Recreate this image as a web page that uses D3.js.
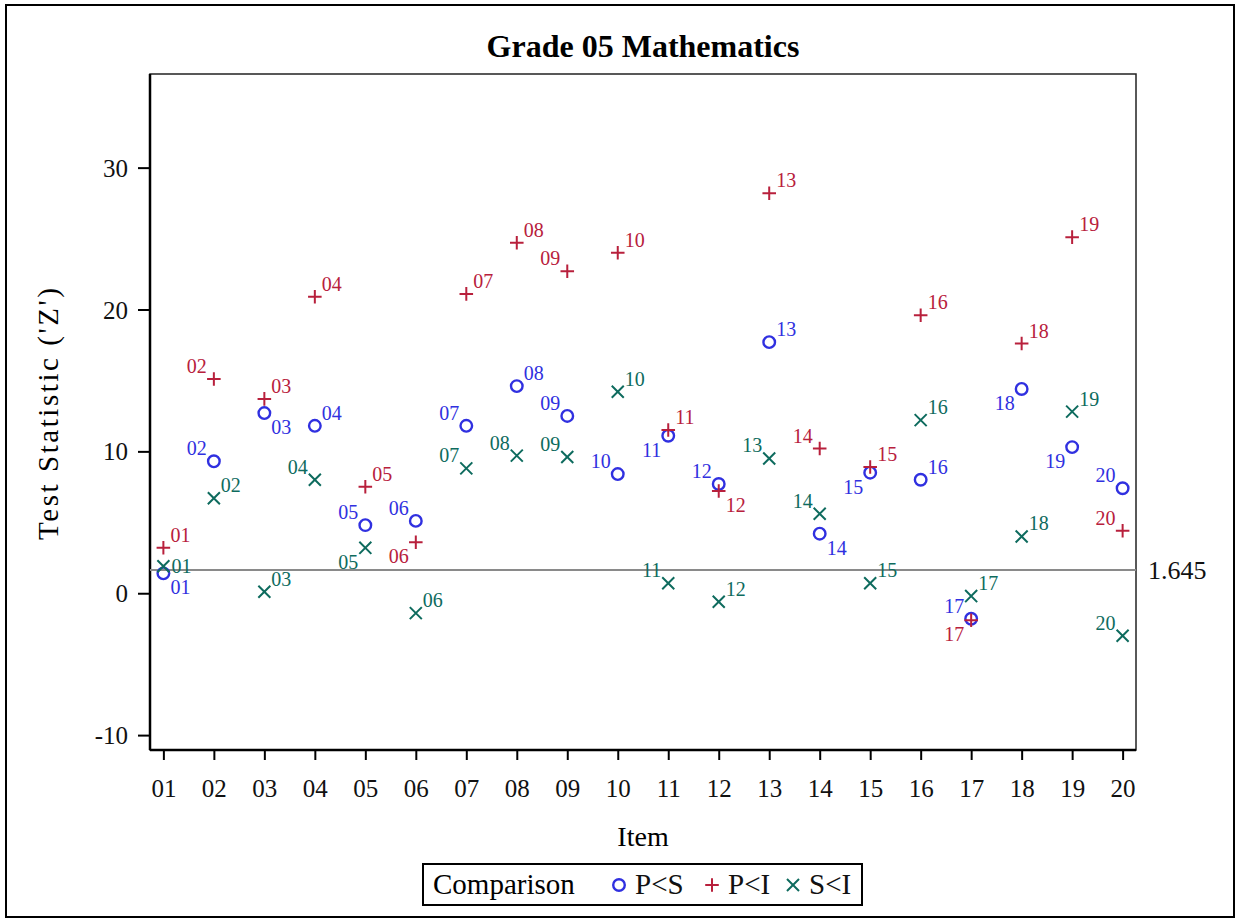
<!DOCTYPE html>
<html>
<head>
<meta charset="utf-8">
<script src="https://cdn.jsdelivr.net/npm/d3@7"></script>
<style>
  body { margin: 0; background: #fff; }
  svg { display: block; font-family: "Liberation Serif", "Times New Roman", serif; }
</style>
</head>
<body>
<div id="chart"></div>
<script>
// Данные графика
const items = ["01","02","03","04","05","06","07","08","09","10","11","12","13","14","15","16","17","18","19","20"];
const pLessS = [1.4, 9.3, 12.7, 11.8, 4.8, 5.1, 11.8, 14.6, 12.5, 8.4, 11.1, 7.7, 17.7, 4.2, 8.5, 8.0, -1.8, 14.4, 10.3, 7.4];
const pLessI = [3.2, 15.1, 13.7, 20.9, 7.5, 3.6, 21.1, 24.7, 22.7, 24.0, 11.5, 7.2, 28.2, 10.2, 8.9, 19.6, -1.9, 17.6, 25.1, 4.4];
const sLessI = [1.9, 6.7, 0.1, 8.0, 3.2, -1.4, 8.8, 9.7, 9.6, 14.2, 0.7, -0.6, 9.5, 5.6, 0.7, 12.2, -0.2, 4.0, 12.8, -3.0];
// Где стоит подпись точки: tr / tl / br / bl / r
const pLessSPos = ["br","tl","br","tr","tl","tl","tl","tr","tl","tl","bl","tl","tr","br","bl","tr","tl","bl","bl","tl"];
const pLessIPos = ["tr","tl","tr","tr","tr","bl","tr","tr","tl","tr","tr","br","tr","tl","tr","tr","bl","tr","tr","tl"];
const sLessIPos = ["r","tr","tr","tl","bl","tr","tl","tl","tl","tr","tl","tr","tl","tl","tr","tr","tr","tr","tr","tl"];
const yTicks = [-10, 0, 10, 20, 30];
const refValue = 1.645;

const seriesNames = ["P<S", "P<I", "S<I"];
const colors = ["#3030E0", "#B8203C", "#0E6B5E"];

const width = 1244, height = 924;
const margin = { left: 150, top: 74, right: 108, bottom: 174 };
const plotW = width - margin.left - margin.right;
const plotH = height - margin.top - margin.bottom;

const svg = d3.select("#chart").append("svg")
  .attr("width", width)
  .attr("height", height);

// Внешняя рамка
svg.append("rect")
  .attr("x", 6).attr("y", 5)
  .attr("width", 1228).attr("height", 912)
  .attr("fill", "none").attr("stroke", "#000").attr("stroke-width", 2);

const xScale = d3.scalePoint()
  .domain(items)
  .range([0, plotW])
  .padding(0.265);

const yScale = d3.scaleLinear()
  .domain([-11.05, 36.6])
  .range([plotH, 0]);

const g = svg.append("g").attr("transform", `translate(${margin.left},${margin.top})`);

// Рамка области построения
g.append("rect")
  .attr("width", plotW).attr("height", plotH)
  .attr("fill", "none").attr("stroke", "#222").attr("stroke-width", 1.5);

// Оси
const yAxis = g.append("g")
  .call(d3.axisLeft(yScale).tickValues(yTicks).tickSize(12).tickPadding(10).tickFormat(d => String(d)));
const xAxis = g.append("g")
  .attr("transform", `translate(0,${plotH})`)
  .call(d3.axisBottom(xScale).tickSize(10).tickPadding(24));

[yAxis, xAxis].forEach(ax => {
  ax.select(".domain").attr("stroke", "#000").attr("stroke-width", 2.5);
  ax.selectAll(".tick line").attr("stroke", "#000").attr("stroke-width", 2);
  ax.selectAll(".tick text")
    .attr("fill", "#111")
    .attr("font-size", 25)
    .attr("font-family", "Liberation Serif, serif");
});
yAxis.selectAll(".tick text").attr("dy", "0.34em");
xAxis.selectAll(".tick text").attr("dy", "0.5em");
yAxis.select(".domain").attr("d", `M0,0V${plotH}`);
xAxis.select(".domain").attr("d", `M0,0H${plotW}`);

// Опорная линия 1.645
g.append("line")
  .attr("x1", 0).attr("x2", plotW)
  .attr("y1", yScale(refValue)).attr("y2", yScale(refValue))
  .attr("stroke", "#8a8a8a").attr("stroke-width", 2);
g.append("text")
  .attr("x", plotW + 12)
  .attr("y", yScale(refValue) + 9)
  .attr("font-size", 26)
  .attr("fill", "#111")
  .text("1.645");

// Маркеры
const shapes = [
  d3.symbol().type(d3.symbolCircle).size(105),
  d3.symbol().type(d3.symbolPlus).size(62),
  d3.symbol().type(d3.symbolTimes).size(96),
];

const seriesData = [pLessS, pLessI, sLessI];
const seriesPos = [pLessSPos, pLessIPos, sLessIPos];

function labelAttrs(pos) {
  switch (pos) {
    case "tr": return { dx: 7, dy: -6, anchor: "start" };
    case "tl": return { dx: -7, dy: -6, anchor: "end" };
    case "br": return { dx: 7, dy: 21, anchor: "start" };
    case "bl": return { dx: -7, dy: 21, anchor: "end" };
    default: return { dx: 8, dy: 7, anchor: "start" };
  }
}

seriesData.forEach((values, s) => {
  const grp = g.append("g").attr("class", "series");
  const pts = values.map((v, i) => ({ item: items[i], value: v, pos: seriesPos[s][i] }));

  grp.selectAll("path")
    .data(pts)
    .join("path")
    .attr("transform", d => `translate(${xScale(d.item)},${yScale(d.value)})`)
    .attr("d", shapes[s]())
    .attr("fill", "none")
    .attr("stroke", colors[s])
    .attr("stroke-width", s === 0 ? 2.4 : 2);

  grp.selectAll("text")
    .data(pts)
    .join("text")
    .attr("x", d => xScale(d.item) + labelAttrs(d.pos).dx)
    .attr("y", d => yScale(d.value) + labelAttrs(d.pos).dy)
    .attr("text-anchor", d => labelAttrs(d.pos).anchor)
    .attr("font-size", 20)
    .attr("fill", colors[s])
    .text(d => d.item);
});

// Заголовок и подписи осей
svg.append("text")
  .attr("x", margin.left + plotW / 2)
  .attr("y", 57)
  .attr("text-anchor", "middle")
  .attr("font-size", 32)
  .attr("font-weight", "bold")
  .text("Grade 05 Mathematics");

svg.append("text")
  .attr("x", margin.left + plotW / 2)
  .attr("y", 846)
  .attr("text-anchor", "middle")
  .attr("font-size", 28)
  .text("Item");

svg.append("text")
  .attr("transform", `translate(58,${margin.top + plotH / 2 + 2}) rotate(-90)`)
  .attr("text-anchor", "middle")
  .attr("font-size", 29)
  .attr("textLength", 252)
  .attr("lengthAdjust", "spacing")
  .text("Test Statistic ('Z')");

// Легенда
const legend = svg.append("g").attr("transform", "translate(423,864)");
legend.append("rect")
  .attr("width", 439).attr("height", 41)
  .attr("fill", "#fff").attr("stroke", "#000").attr("stroke-width", 2);
legend.append("text")
  .attr("x", 10).attr("y", 30)
  .attr("font-size", 29)
  .text("Comparison");

const legendX = [196, 289, 370];
seriesNames.forEach((name, s) => {
  legend.append("path")
    .attr("transform", `translate(${legendX[s]},21)`)
    .attr("d", shapes[s]())
    .attr("fill", "none")
    .attr("stroke", colors[s])
    .attr("stroke-width", s === 0 ? 2.4 : 2);
  legend.append("text")
    .attr("x", legendX[s] + 16).attr("y", 30)
    .attr("font-size", 29)
    .attr("fill", "#111")
    .text(name);
});
</script>
</body>
</html>
